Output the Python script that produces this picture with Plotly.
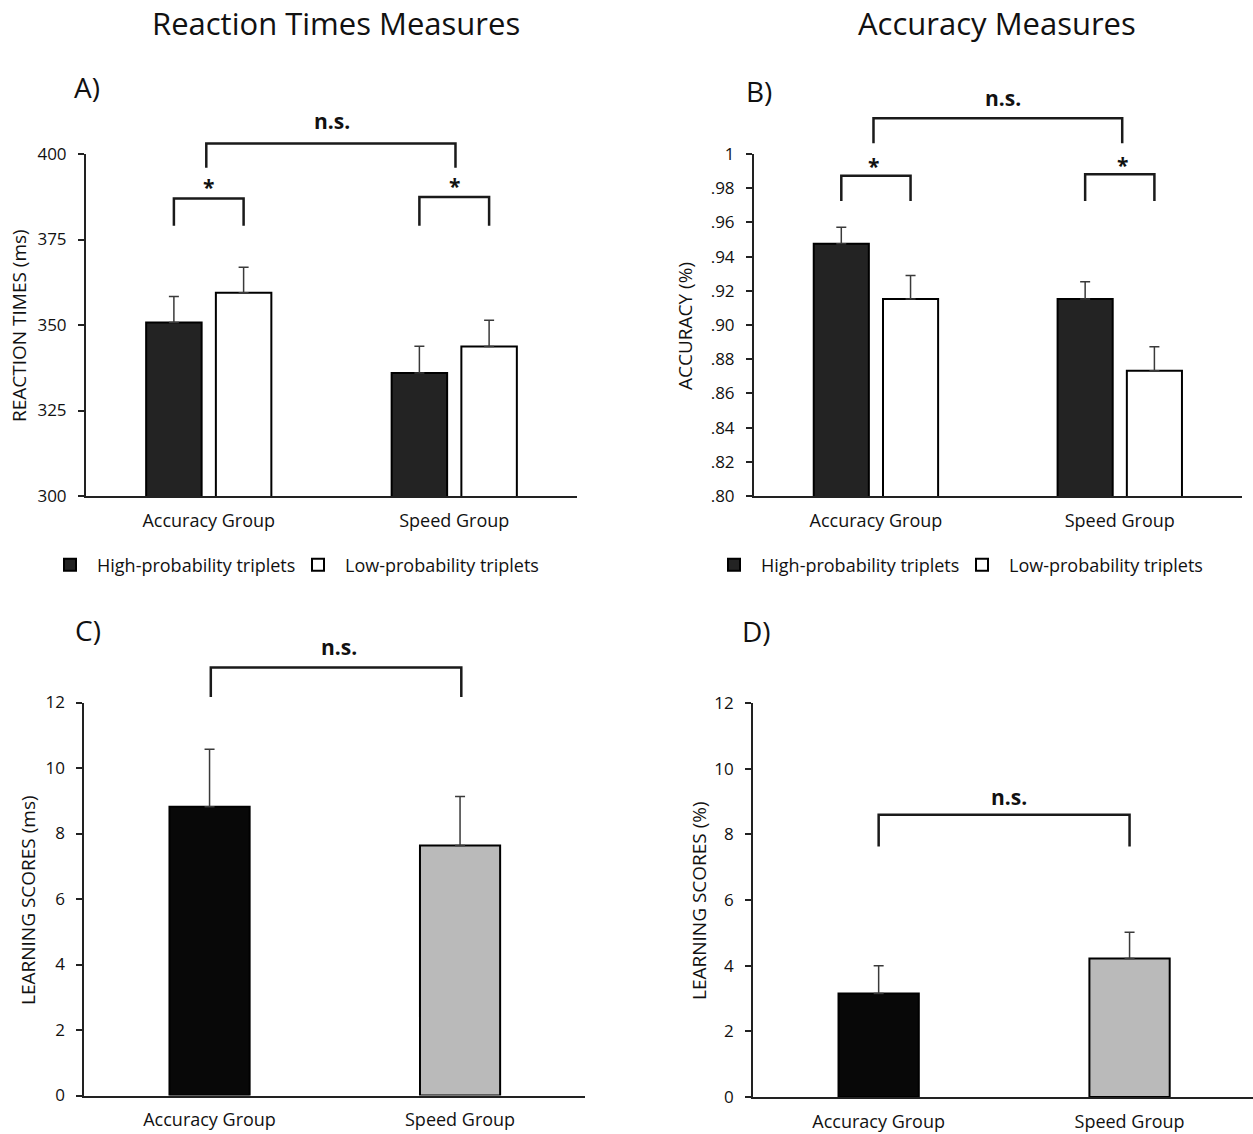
import plotly.graph_objects as go

# ---------------- data ----------------
groups = ["Accuracy Group", "Speed Group"]

rt_high = [350.7, 336.0]
rt_high_err = [7.6, 7.8]
rt_low = [359.4, 343.7]
rt_low_err = [7.5, 7.7]

acc_high = [0.9475, 0.9152]
acc_high_err = [0.0097, 0.0101]
acc_low = [0.9152, 0.8732]
acc_low_err = [0.0138, 0.0141]

learn_rt = [8.82, 7.63]
learn_rt_err = [1.75, 1.50]
learn_acc = [3.15, 4.22]
learn_acc_err = [0.85, 0.80]

rt_ticks = [300, 325, 350, 375, 400]
acc_ticks = [0.80, 0.82, 0.84, 0.86, 0.88, 0.90, 0.92, 0.94, 0.96, 0.98, 1.0]
acc_ticktext = [".80", ".82", ".84", ".86", ".88", ".90", ".92", ".94", ".96", ".98", "1"]
learn_ticks = [0, 2, 4, 6, 8, 10, 12]

legend_names = ["High-probability triplets", "Low-probability triplets"]

# ---------------- layout geometry ----------------
W, H = 1253, 1134
FONT = "Open Sans"
INK = "#111111"

def px_x(p):
    return min(max(p / W, 0.0), 1.0)

def px_y(p):
    return 1 - p / H

# panel geometry in page pixels
panels = {
    "A": dict(x0=86, x1=577, yt=154, yb=496, yr=[300, 400], xr=[-0.5, 1.5]),
    "B": dict(x0=754, x1=1241.7, yt=154, yb=496, yr=[0.8, 1.0], xr=[-0.5, 1.5]),
    "C": dict(x0=84.3, x1=585.3, yt=702.5, yb=1095.5, yr=[0, 12], xr=[-0.5, 1.5]),
    "D": dict(x0=753.2, x1=1253, yt=703, yb=1097, yr=[0, 12], xr=[-0.5, 1.492]),
}

def dx(panel, v):
    p = panels[panel]
    return px_x(p["x0"] + (v - p["xr"][0]) / (p["xr"][1] - p["xr"][0]) * (p["x1"] - p["x0"]))

def dy(panel, v):
    p = panels[panel]
    return px_y(p["yb"] - (v - p["yr"][0]) / (p["yr"][1] - p["yr"][0]) * (p["yb"] - p["yt"]))

fig = go.Figure()

BW = 0.226
DARK = "#232323"

def bar(x, y, err, color, xa, ya, offset, width, name=None, legend=None, show=False):
    return go.Bar(
        x=x, y=y, xaxis=xa, yaxis=ya,
        offset=offset, width=width,
        marker=dict(color=color, line=dict(color="#000000", width=2)),
        error_y=dict(type="data", symmetric=False, array=err, arrayminus=[0] * len(err),
                     color="#3a3a3a", thickness=1.5, width=5),
        name=name, showlegend=show, legend=legend,
    )

# Panel A
fig.add_trace(bar(groups, rt_high, rt_high_err, DARK, "x", "y", -0.255, BW,
                  legend_names[0], "legend", True))
fig.add_trace(bar(groups, rt_low, rt_low_err, "#ffffff", "x", "y", 0.029, BW,
                  legend_names[1], "legend", True))
# Panel B
fig.add_trace(bar(groups, acc_high, acc_high_err, DARK, "x2", "y2", -0.255, BW,
                  legend_names[0], "legend2", True))
fig.add_trace(bar(groups, acc_low, acc_low_err, "#ffffff", "x2", "y2", 0.029, BW,
                  legend_names[1], "legend2", True))
# Panel C
fig.add_trace(go.Bar(x=groups, y=learn_rt, xaxis="x3", yaxis="y3", width=0.32,
                     marker=dict(color=["#080808", "#bababa"], line=dict(color="#000000", width=2)),
                     error_y=dict(type="data", symmetric=False, array=learn_rt_err,
                                  arrayminus=[0, 0], color="#3a3a3a", thickness=1.5, width=5),
                     showlegend=False))
# Panel D
fig.add_trace(go.Bar(x=groups, y=learn_acc, xaxis="x4", yaxis="y4", width=0.32,
                     marker=dict(color=["#080808", "#bababa"], line=dict(color="#000000", width=2)),
                     error_y=dict(type="data", symmetric=False, array=learn_acc_err,
                                  arrayminus=[0, 0], color="#3a3a3a", thickness=1.5, width=5),
                     showlegend=False))

def xaxis_cfg(panel, anchor):
    p = panels[panel]
    return dict(domain=[px_x(p["x0"]), px_x(p["x1"])], range=p["xr"], type="category",
                anchor=anchor, automargin=False,
                showline=True, linecolor="#222222", linewidth=2, ticks="",
                showgrid=False, zeroline=False, fixedrange=True,
                tickfont=dict(family=FONT, size=18, color=INK), ticklabelstandoff=7)

def yaxis_cfg(panel, anchor, tickvals, ticktext=None):
    p = panels[panel]
    d = dict(domain=[px_y(p["yb"]), px_y(p["yt"])], range=p["yr"], anchor=anchor,
             automargin=False,
             showline=True, linecolor="#222222", linewidth=2,
             ticks="outside", ticklen=6, tickwidth=2, tickcolor="#222222",
             tickvals=tickvals, showgrid=False, zeroline=False,
             tickfont=dict(family=FONT, size=17, color=INK), ticklabelstandoff=8)
    if ticktext is not None:
        d["ticktext"] = ticktext
    return d

shapes = []
annotations = []

def bracket(panel, xl, xr, ytop, ybot):
    path = "M{:.5f},{:.5f} L{:.5f},{:.5f} L{:.5f},{:.5f} L{:.5f},{:.5f}".format(
        dx(panel, xl), dy(panel, ybot), dx(panel, xl), dy(panel, ytop),
        dx(panel, xr), dy(panel, ytop), dx(panel, xr), dy(panel, ybot))
    shapes.append(dict(type="path", xref="paper", yref="paper", path=path,
                       line=dict(color="#1a1a1a", width=2.5)))

def label(panel, x, y, text, size, bold=True):
    annotations.append(dict(xref="paper", yref="paper", x=dx(panel, x), y=dy(panel, y),
                            text=("<b>%s</b>" % text) if bold else text, showarrow=False,
                            xanchor="center", yanchor="middle",
                            font=dict(family=FONT, size=size, color=INK)))

# bar centres within a group (category units)
hi_c = -0.255 + BW / 2
lo_c = 0.029 + BW / 2

# Panel A brackets
bracket("A", -0.01, 1.005, 403.1, 396.0)
label("A", 0.5, 409.6, "n.s.", 21)
bracket("A", hi_c, lo_c, 387.0, 379.0)
label("A", 0.0, 390.3, "*", 21)
bracket("A", 1 + hi_c, 1 + lo_c, 387.4, 379.0)
label("A", 1.0, 390.7, "*", 21)

# Panel B brackets
bracket("B", -0.01, 1.01, 1.0209, 1.0063)
label("B", 0.52, 1.0325, "n.s.", 21)
bracket("B", hi_c, lo_c, 0.9873, 0.9725)
label("B", -0.01, 0.9932, "*", 21)
bracket("B", 1 + hi_c, 1 + lo_c, 0.9881, 0.9725)
label("B", 1.01, 0.9937, "*", 21)

# Panel C bracket
bracket("C", 0.005, 1.005, 13.07, 12.17)
label("C", 0.515, 13.68, "n.s.", 21)

# Panel D bracket
bracket("D", 0.0, 1.0, 8.60, 7.63)
label("D", 0.52, 9.15, "n.s.", 21)

# Section titles
annotations.append(dict(xref="paper", yref="paper", x=px_x(336), y=px_y(23),
                        text="Reaction Times Measures", showarrow=False,
                        xanchor="center", yanchor="middle",
                        font=dict(family=FONT, size=31, color=INK)))
annotations.append(dict(xref="paper", yref="paper", x=px_x(997), y=px_y(23),
                        text="Accuracy Measures", showarrow=False,
                        xanchor="center", yanchor="middle",
                        font=dict(family=FONT, size=31, color=INK)))

# Panel letters
for txt, x, y in [("A)", 72, 87), ("B)", 744, 91), ("C)", 73, 630), ("D)", 740, 631)]:
    annotations.append(dict(xref="paper", yref="paper", x=px_x(x), y=px_y(y), text=txt,
                            showarrow=False, xanchor="left", yanchor="middle",
                            font=dict(family=FONT, size=28, color=INK)))

# y-axis titles
for txt, x, y in [("REACTION TIMES (ms)", 19, 326), ("ACCURACY (%)", 685, 326),
                  ("LEARNING SCORES (ms)", 28, 900), ("LEARNING SCORES (%)", 699, 901)]:
    annotations.append(dict(xref="paper", yref="paper", x=px_x(x), y=px_y(y), text=txt,
                            showarrow=False, xanchor="center", yanchor="middle", textangle=-90,
                            font=dict(family=FONT, size=19, color=INK)))

legend_common = dict(orientation="h", yanchor="middle", xanchor="left",
                     font=dict(family=FONT, size=18, color=INK),
                     bgcolor="rgba(0,0,0,0)", borderwidth=0,
                     entrywidth=189, entrywidthmode="pixels", itemwidth=44,
                     traceorder="normal", tracegroupgap=0)

fig.update_layout(
    width=W, height=H,
    margin=dict(l=0, r=0, t=0, b=0, pad=0, autoexpand=False),
    paper_bgcolor="#ffffff", plot_bgcolor="#ffffff",
    barmode="overlay",
    font=dict(family=FONT, color=INK),
    xaxis=xaxis_cfg("A", "y"), yaxis=yaxis_cfg("A", "x", rt_ticks),
    xaxis2=xaxis_cfg("B", "y2"), yaxis2=yaxis_cfg("B", "x2", acc_ticks, acc_ticktext),
    xaxis3=xaxis_cfg("C", "y3"), yaxis3=yaxis_cfg("C", "x3", learn_ticks),
    xaxis4=xaxis_cfg("D", "y4"), yaxis4=yaxis_cfg("D", "x4", learn_ticks),
    legend=dict(legend_common, x=px_x(43), y=px_y(565)),
    legend2=dict(legend_common, x=px_x(707), y=px_y(565)),
    shapes=shapes,
    annotations=annotations,
)

# remove the default page margin so the figure fills the window from its top-left corner
fig.write_html("out.html",
               config={"displayModeBar": False},
               post_script="document.body.style.margin='0';document.body.style.overflow='hidden';")
